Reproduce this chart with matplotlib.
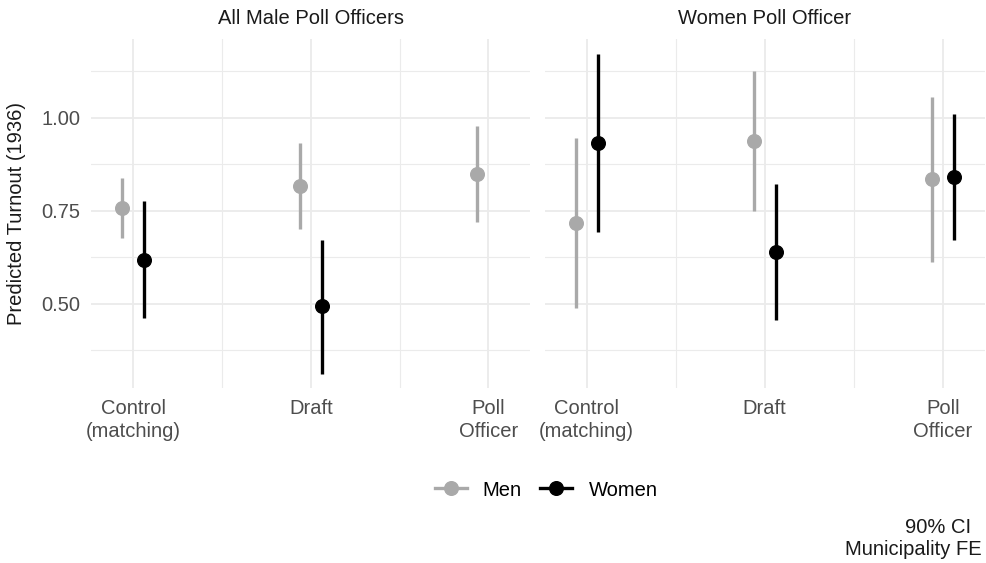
import matplotlib
matplotlib.use("Agg")
import matplotlib.pyplot as plt
from matplotlib.lines import Line2D
import numpy as np

plt.rcParams['font.family'] = ['Liberation Sans', 'DejaVu Sans']

# Data
categories = ["Control\n(matching)", "Draft", "Poll\nOfficer"]
panels = ["All Male Poll Officers", "Women Poll Officer"]

# All male poll officers panel
male_men_est = [0.759, 0.817, 0.849]
male_men_lo = [0.678, 0.702, 0.720]
male_men_hi = [0.839, 0.931, 0.978]
male_women_est = [0.619, 0.494, np.nan]
male_women_lo = [0.461, 0.313, np.nan]
male_women_hi = [0.776, 0.673, np.nan]

# Women poll officer panel
fem_men_est = [0.718, 0.937, 0.835]
fem_men_lo = [0.488, 0.750, 0.613]
fem_men_hi = [0.947, 1.126, 1.056]
fem_women_est = [0.931, 0.640, 0.841]
fem_women_lo = [0.693, 0.458, 0.671]
fem_women_hi = [1.171, 0.822, 1.011]

MEN_COL = "#A9A9A9"
WOMEN_COL = "#000000"
GRID = "#EBEBEB"
FS = 14.5

fig = plt.figure(figsize=(9.87, 5.63), dpi=100)
W, H = 987, 563
ax_l = fig.add_axes([91.3 / W, 1 - 388.3 / H, 439 / W, 349 / H])
ax_r = fig.add_axes([544.7 / W, 1 - 388.3 / H, 440 / W, 349 / H])

x = np.arange(1, len(categories) + 1)
dodge = 0.0625


def draw_series(ax, xs, est, lo, hi, color):
    est = np.array(est)
    lo = np.array(lo)
    hi = np.array(hi)
    ok = ~np.isnan(est)
    ax.vlines(xs[ok], lo[ok], hi[ok], color=color, lw=2.4, zorder=3)
    ax.plot(xs[ok], est[ok], "o", color=color, ms=9.8, mec=color, zorder=4)


data = [
    (male_men_est, male_men_lo, male_men_hi, male_women_est, male_women_lo, male_women_hi),
    (fem_men_est, fem_men_lo, fem_men_hi, fem_women_est, fem_women_lo, fem_women_hi),
]

for i, (ax, title, d) in enumerate(zip([ax_l, ax_r], panels, data)):
    draw_series(ax, x - dodge, d[0], d[1], d[2], MEN_COL)
    draw_series(ax, x + dodge, d[3], d[4], d[5], WOMEN_COL)

    ax.set_xlim(0.764, 3.236)
    ax.set_ylim(0.2734, 1.2108)
    ax.set_xticks(x)
    ax.set_xticks([1.5, 2.5], minor=True)
    ax.set_yticks([0.5, 0.75, 1.0])
    ax.set_yticks([0.375, 0.625, 0.875, 1.125], minor=True)
    ax.grid(which="major", color=GRID, lw=1.3, zorder=0)
    ax.grid(which="minor", color=GRID, lw=0.8, zorder=0)
    ax.set_axisbelow(True)
    for s in ax.spines.values():
        s.set_visible(False)
    ax.tick_params(which="both", length=0, labelsize=FS, labelcolor="#4D4D4D")
    ax.tick_params(axis="x", pad=8)
    ax.tick_params(axis="y", pad=8)
    ax.set_xticklabels(categories, linespacing=1.25)
    if i == 0:
        ax.set_yticklabels(["0.50", "0.75", "1.00"])
    else:
        ax.set_yticklabels([])
    ax.text(0.5, 1 + (39.3 - 18) / 349, title, transform=ax.transAxes,
            ha="center", va="center", fontsize=FS, color="#1A1A1A")

fig.text(17 / W, 1 - 213.8 / H, "Predicted Turnout (1936)", rotation=90,
         ha="center", va="center", fontsize=FS, color="#1A1A1A")

handles = [
    Line2D([], [], color=MEN_COL, lw=2.4, marker="o", ms=9.8),
    Line2D([], [], color=WOMEN_COL, lw=2.4, marker="o", ms=9.8),
]
fig.legend(handles, ["Men", "Women"], loc="center", ncol=2,
           bbox_to_anchor=(546 / W, 1 - 490 / H), frameon=False,
           fontsize=FS, handlelength=1.6, handletextpad=0.8,
           columnspacing=0.9)

fig.text(982 / W, 1 - 538.5 / H, "90% CI  \nMunicipality FE", ha="right",
         va="center", multialignment="right", fontsize=FS, color="#1A1A1A",
         linespacing=1.25)

fig.savefig("out.png", dpi=100)
